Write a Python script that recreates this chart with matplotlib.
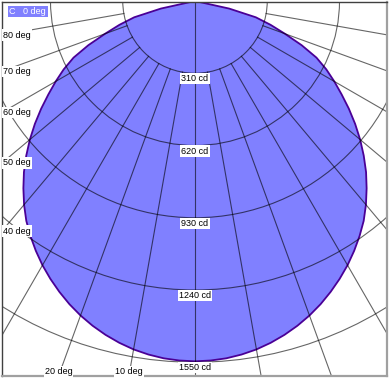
import numpy as np
import matplotlib
matplotlib.use('Agg')
from matplotlib import pyplot as plt
from matplotlib.patches import Circle, Polygon

# luminous intensity (cd), gamma 0..80 deg
gamma = [0, 2.5, 5, 7.5, 10, 12.5, 15, 17.5, 20, 22.5, 25, 27.5, 30, 32.5, 35,
         37.5, 40, 42.5, 45, 47.5, 50, 52.5, 55, 57.5, 60, 62.5, 65, 67.5, 70,
         72.5, 75, 77.5, 80]
intensity = [1546, 1544, 1539, 1530, 1518, 1502, 1483, 1461, 1436, 1408, 1377,
             1344, 1309, 1271, 1231, 1189, 1141, 1090, 1038, 982, 925, 866, 806,
             746, 690, 635, 575, 495, 410, 340, 270, 150, 0]

rings = [310, 620, 930, 1240, 1550]
spokes = [10, 20, 30, 40, 50, 60, 70, 80, 90]
left_labels = [40, 50, 60, 70, 80]
bottom_labels = [10, 20]

plt.rcParams['font.family'] = ['Liberation Sans', 'DejaVu Sans']

s = 310 / 72.25  # cd per pixel
W, H = 390, 379
ox, oy = 195, 1  # origin of the diagram in pixels

fig = plt.figure(figsize=(W / 100, H / 100), dpi=100)
ax = fig.add_axes([2 / W, 3 / H, 385 / W, 374 / H])
xmin, xmax = (2 - ox) * s, (387 - ox) * s
ymin, ymax = -(376 - oy) * s, -(2 - oy) * s
ax.set_xlim(xmin, xmax)
ax.set_ylim(ymin, ymax)
ax.set_xticks([])
ax.set_yticks([])
for side in ['left', 'top']:
    ax.spines[side].set_color('#404040')
    ax.spines[side].set_linewidth(1)
for side in ['right', 'bottom']:
    ax.spines[side].set_color('#a0a0a0')
    ax.spines[side].set_linewidth(1.6)

# curve, mirrored for the C180 half
g = np.radians(np.array(gamma, dtype=float))
I = np.array(intensity, dtype=float)
ang = np.concatenate([-g[::-1], g[1:]])
rad = np.concatenate([I[::-1], I[1:]])
pts = np.column_stack([rad * np.sin(ang), -rad * np.cos(ang)])
ax.add_patch(Polygon(pts, closed=True, facecolor='#8080ff', edgecolor='#4a0096',
                     linewidth=1.3, zorder=1))

grid_c = (0, 0, 0, 0.6)
for r in rings:
    ax.add_patch(Circle((0, 0), r, fill=False, edgecolor=grid_c, linewidth=0.8, zorder=2))
ax.plot([0, 0], [0, -4000], color=grid_c, linewidth=0.8, zorder=2)
for a in spokes:
    t = np.radians(a)
    for sg in (-1, 1):
        ax.plot([sg * rings[0] * np.sin(t), sg * 4000 * np.sin(t)],
                [-rings[0] * np.cos(t), -4000 * np.cos(t)],
                color=grid_c, linewidth=0.8, zorder=2)

fs = 6.5
box = dict(facecolor='white', edgecolor='none', pad=0.8)
for r in rings:
    ax.text(0, -r - 5.5 * s, '%d cd' % r, ha='center', va='center', fontsize=fs,
            bbox=box, zorder=5)
for a in left_labels:
    t = np.radians(a)
    rr = -xmin / np.sin(t)
    ax.text(xmin + 1.5 * s, -rr * np.cos(t), '%d deg' % a, ha='left', va='center',
            fontsize=fs, bbox=box, zorder=5)
for a in bottom_labels:
    t = np.radians(a)
    rr = -ymin / np.cos(t)
    ax.text(-rr * np.sin(t), ymin + 4 * s, '%d deg' % a, ha='center', va='center',
            fontsize=fs, bbox=box, zorder=5)

ax.text(xmin + 7.5 * s, -(11.5 - oy) * s, 'C   0 deg', ha='left', va='center', fontsize=fs,
        color='white', bbox=dict(facecolor='#8080ff', edgecolor='none', pad=1.0), zorder=6)

fig.savefig('out.png', dpi=100)
